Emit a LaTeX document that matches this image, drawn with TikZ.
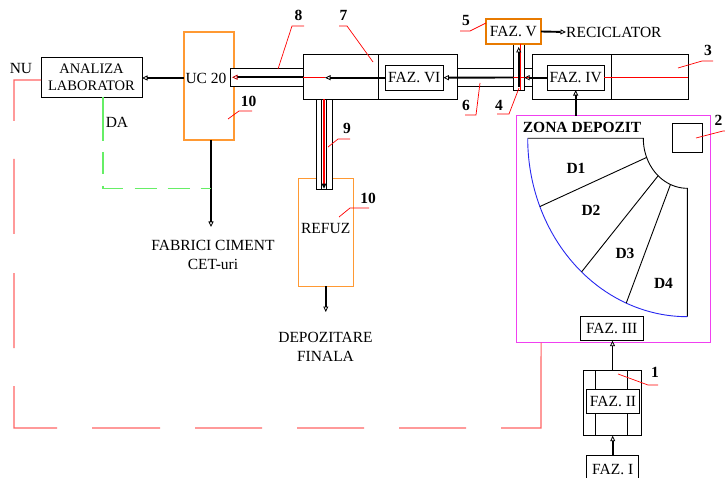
\documentclass[tikz,border=0pt]{standalone}
\usepackage{fontspec}
\setmainfont{Liberation Serif}
\usetikzlibrary{arrows.meta,calc}
\definecolor{uorange}{HTML}{FF9933}
\definecolor{dorange}{HTML}{E87A00}
\definecolor{zmag}{HTML}{F040F0}
\definecolor{lred}{HTML}{FF6464}
\definecolor{lgreen}{HTML}{66EE66}
\definecolor{fblue}{HTML}{2828F0}
\begin{document}
\begin{tikzpicture}[x=1pt,y=-1pt,
  box/.style={draw=black, line width=0.9pt, fill=white, inner sep=0pt, outer sep=0pt},
  obox/.style={box, draw=uorange, line width=1.1pt},
  txt/.style={font=\fontsize{15.5}{19}\selectfont, inner sep=0pt, align=center},
  num/.style={font=\fontsize{15.5}{19}\selectfont\bfseries, inner sep=0pt},
  lead/.style={draw=red, line width=0.7pt},
  redln/.style={draw=red, line width=0.6pt},
  flow/.style={line width=1.9pt, -{Triangle[open, length=5.5pt, width=5pt, line width=0.8pt]}},
  rdash/.style={draw=lred, line width=1.1pt, dash pattern=on 68pt off 38pt on 75pt off 39pt on 75pt off 38pt on 85pt off 35pt on 68pt off 35pt on 67pt off 35pt on 67pt off 35pt on 67pt off 35pt on 200pt off 1pt},
  gdash/.style={draw=lgreen, line width=1.1pt, dash pattern=on 44pt off 11pt on 22pt off 12pt on 22pt off 12pt on 22pt off 11pt on 22pt off 11pt on 22pt off 11pt},
  fanln/.style={draw=black, line width=0.9pt}
]
\useasboundingbox (0,0) rectangle (725,478);
\fill[white] (0,0) rectangle (725,478);

% ---------- left part ----------
\node[box, font=\fontsize{14.5}{17}\selectfont, align=center, minimum width=101pt, minimum height=40pt] (lab) at (91.5,77) {ANALIZA\\LABORATOR};
\node[txt] (nu) at (21,69) {NU};
\node[txt] (da) at (117,122) {DA};

\node[obox, minimum width=50pt, minimum height=108pt] (uc) at (209,86) {};
\node[txt] (uct) at (206,78) {UC 20};
\node[box, minimum width=73pt, minimum height=17.5pt] (p8) at (266.5,77.25) {};

% ---------- box 7 ----------
\node[box, minimum width=154pt, minimum height=44.8pt] (b7) at (380,76.9) {};
\draw[line width=0.9pt] ($(b7.north west)+(75,0)$) -- ($(b7.south west)+(75,0)$);
\node[box, txt, minimum width=58pt, minimum height=24.7pt] (f6) at (414.3,77.7) {FAZ. VI};

% ---------- pipes 6, 4 ----------
\node[box, minimum width=56.3pt, minimum height=18.4pt] (p6) at (485.2,77.5) {};
\node[box, minimum width=10.7pt, minimum height=46pt] (p4) at (518.7,67) {};
\node[box, minimum width=8pt, minimum height=18.7pt] (c4) at (528,77.4) {};

% ---------- box 3 ----------
\node[box, minimum width=156.3pt, minimum height=45pt] (b3) at (610.2,76.8) {};
\draw[line width=0.9pt] ($(b3.north west)+(79.7,0)$) -- ($(b3.south west)+(79.7,0)$);
\node[box, txt, minimum width=56.7pt, minimum height=24.7pt] (f4) at (575.7,77.7) {FAZ. IV};

% ---------- FAZ V ----------
\node[box, txt, draw=dorange, line width=1.6pt, minimum width=55.3pt, minimum height=25pt] (f5) at (513.4,31.5) {FAZ. V};
\node[txt, anchor=west] (rec) at (566,32) {RECICLATOR};

% ---------- ZONA DEPOZIT ----------
\node[box, draw=zmag, line width=1.1pt, minimum width=194.7pt, minimum height=227pt] (zd) at (613.4,229.2) {};
\node[num, anchor=west] (zt) at (522.7,127.5) {ZONA DEPOZIT};
\node[box, minimum width=30pt, minimum height=29pt] (b2) at (687.3,137.8) {};

% fan
\draw[fanln] (527.7,138.3) -- (643.3,138.3)
  -- plot[domain=180:90, samples=40, smooth] ({687.3+44*cos(\x)},{138.3+50*sin(\x)})
  -- (687.3,316.7);
\draw[fblue, line width=0.9pt] plot[domain=90:180, samples=80, smooth] ({687.3+159.6*cos(\x)},{138.3+178.4*sin(\x)});
\draw[fanln] (646.65,157.43) -- (539.85,206.57);
\draw[fanln] (658.15,175.75) -- (581.55,271.92);
\draw[fanln] (670.46,184.49) -- (626.22,303.12);
\node[num] (d1) at (576,168) {D1};
\node[num] (d2) at (591,210) {D2};
\node[num] (d3) at (625,253) {D3};
\node[num] (d4) at (663.5,283) {D4};

\node[box, txt, minimum width=63.3pt, minimum height=24pt] (f3) at (611.7,328.7) {FAZ. III};

% ---------- box 1, FAZ II, FAZ I ----------
\node[box, minimum width=58.4pt, minimum height=65pt] (b1) at (612.5,403.2) {};
\draw[line width=0.9pt] ($(b1.north west)+(12.4,0)$) -- ($(b1.south west)+(12.4,0)$);
\draw[line width=0.9pt] ($(b1.north west)+(44.4,0)$) -- ($(b1.south west)+(44.4,0)$);
\node[box, txt, minimum width=52.6pt, minimum height=24.3pt] (f2) at (613,401.2) {FAZ. II};
\node[box, txt, minimum width=52pt, minimum height=26.6pt] (f1) at (612.7,469) {FAZ. I};

% ---------- REFUZ, pipe 9 ----------
\node[obox, minimum width=55pt, minimum height=107.7pt] (rf) at (325.8,232.2) {};
\node[txt] (rft) at (325.7,229) {REFUZ};
\node[box, minimum width=16.3pt, minimum height=90pt] (p9) at (324.2,144.3) {};
\draw[line width=0.5pt] ($(p9.north)+(-2.8,0)$) -- ($(p9.south)+(-2.8,0)$);
\draw[line width=0.5pt] ($(p9.north)+(2.4,0)$) -- ($(p9.south)+(2.4,0)$);
\draw[red, line width=1.8pt] ($(p9.north)+(-0.2,0)$) -- ($(p9.south)+(-0.2,-4)$);
\fill ($(p9.south)+(-0.2,-0.6)$) -- ++(-2.5,-5) -- ++(5,0) -- cycle;

\node[txt] (fab) at (213,255) {FABRICI CIMENT\\CET-uri};
\coordinate (fabtop) at (211,227);
\node[txt] (dep) at (325.5,347) {DEPOZITARE\\FINALA};
\coordinate (deptop) at (325.8,312);
\coordinate (m7) at (325,77.7);

% ---------- flows ----------
\draw[flow] (uc.west |- uct) -- (lab.east |- uct);
\draw[redln] (b7.west |- m7) -- (m7);
\draw[flow, -{Triangle[open, length=5.5pt, width=5pt, line width=0.8pt, color=red!70!black]}] (p8.east) -- ($(p8.west)+(2,0)$);
\draw[flow] (f6.west) -- (m7);
\draw[redln] (p6.east |- f4.west) -- (f4.west);
\draw[flow] (p6.east) -- (f6.east);
\draw[flow] (f4.west) -- (p4.east |- f4.west);
\draw[red, line width=0.6pt] ($(p4.north)+(2,0)$) -- ($(p4.south)+(2,0)$);
\draw[flow] ($(p4.south)+(0,-3)$) -- ($(p4.north)+(0,3)$);
\draw[red, line width=0.7pt] (f4.east) -- (b3.east |- f4.east);
\draw[flow] (f5.east) -- (rec.west);
\draw[flow] (zd.north -| f4.south) -- (f4.south);
\draw[flow] (b1.north) -- (b1.north |- f3.south);
\draw[flow] (f1.north) -- (f1.north |- b1.south);
\draw[flow] ($(uc.south)+(2,0)$) -- (fabtop);
\draw[flow] (rf.south) -- (deptop);

% dashed feedback lines
\draw[gdash] ($(lab.south west)+(62,0)$) |- (211,188.5);
\draw[rdash] ($(lab.west)+(0,3)$) -- (14,80) -- (14,428) -- (541,428) -- ($(zd.south west)+(25,0)$);

% ---------- numbered leaders ----------
\node[num] (n8) at (298.5,15) {8};   \draw[lead] (278,69) -- (292,26) -- (304,26);
\node[num] (n7) at (343.5,15) {7};   \draw[lead] (373,62) -- (347,26) -- (339,26);
\node[num] (n5) at (466,21) {5};     \draw[lead] (486,23) -- (470,31) -- (460,31);
\node[num] (n3) at (708,50) {3};     \draw[lead] (678,68) -- (702,61) -- (713,61);
\node[num] (n2) at (718.5,120.5) {2};\draw[lead] (696,138) -- (723,131) -- (726,131);
\node[num] (n10a) at (248.5,101) {10}; \draw[lead] (228,119) -- (239,111) -- (252,111);
\node[num] (n6) at (466,105) {6};    \draw[lead] (480,83) -- (476,115) -- (465,115);
\node[num] (n4) at (499,105) {4};    \draw[lead] (519,88) -- (509,114) -- (497,114);
\node[num] (n9) at (347,128) {9};    \draw[lead] (328,147) -- (338,139) -- (350,139);
\node[num] (n10b) at (368,198) {10}; \draw[lead] (339,217) -- (350,208) -- (369,208);
\node[num] (n1) at (655,372) {1};    \draw[lead] (618,374) -- (648,385) -- (658,385);
\end{tikzpicture}
\end{document}
